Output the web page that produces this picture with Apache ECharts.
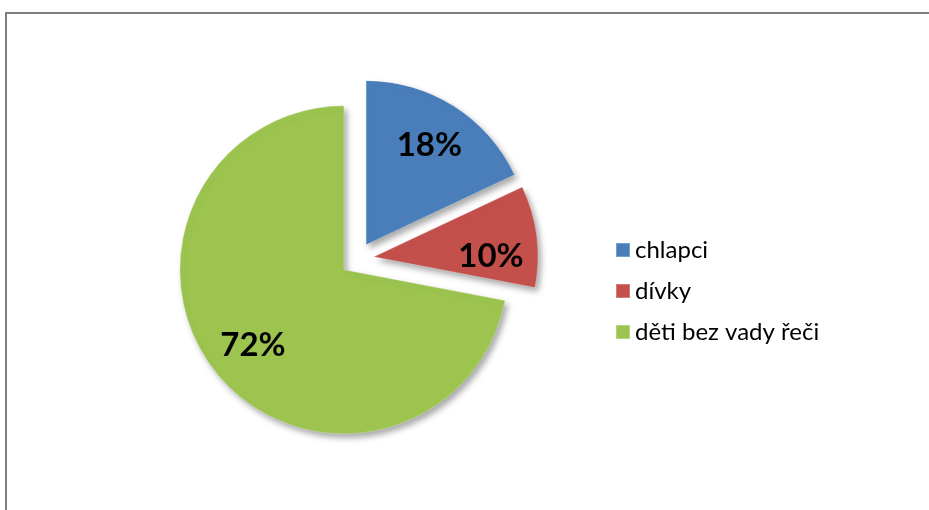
<!DOCTYPE html>
<html>
<head>
<meta charset="utf-8">
<script src="https://cdn.jsdelivr.net/npm/echarts@6/dist/echarts.min.js"></script>
<style>
html,body{margin:0;padding:0;background:#fff;}
#frame{position:absolute;left:5px;top:12px;width:924px;height:498px;border-top:2px solid #7f7f7f;border-left:2px solid #7f7f7f;box-sizing:border-box;}
#chart{position:absolute;left:0;top:0;width:929px;height:510px;}
</style>
</head>
<body>
<div id="frame"></div>
<div id="chart"></div>
<script>
const categories = ['chlapci', 'dívky', 'děti bez vady řeči'];
const values = [18, 10, 72];
const labels = ['18%', '10%', '72%'];
const colors = ['#4a7ebb', '#c4504c', '#9cc44f'];

const chart = echarts.init(document.getElementById('chart'));
const center = [357, 259];
const R = 164;
const FONT = 'Lato, "Open Sans", sans-serif';

const pieData = categories.map((c, i) => ({
  name: c, value: values[i], selected: true,
  itemStyle: {color: colors[i]}
}));
const labelData = categories.map((c, i) => ({
  name: c, value: values[i], selected: true,
  label: {formatter: labels[i]}
}));

chart.setOption({
  animation: false,
  legend: {
    orient: 'vertical',
    left: 610,
    top: 233,
    itemWidth: 14,
    itemHeight: 14,
    itemGap: 17,
    icon: 'rect',
    data: categories,
    textStyle: {fontFamily: FONT, fontSize: 24, color: '#000'}
  },
  series: [
    {
      type: 'pie',
      center: center,
      radius: [0, R],
      startAngle: 90,
      clockwise: true,
      selectedMode: 'multiple',
      selectedOffset: 17,
      label: {show: false},
      labelLine: {show: false},
      emphasis: {disabled: true},
      itemStyle: {
        shadowBlur: 6, shadowOffsetX: 3, shadowOffsetY: 4, shadowColor: 'rgba(0,0,0,0.35)',
        borderColor: 'rgba(255,255,255,0.25)', borderWidth: 1
      },
      data: pieData
    },
    {
      type: 'pie',
      center: center,
      radius: [66, R],
      startAngle: 90,
      clockwise: true,
      selectedMode: 'multiple',
      selectedOffset: 17,
      silent: true,
      legendHoverLink: false,
      itemStyle: {color: 'rgba(0,0,0,0)'},
      emphasis: {disabled: true},
      labelLine: {show: false},
      label: {
        show: true, position: 'inside',
        fontFamily: FONT,
        fontWeight: 'bold', fontSize: 33, color: '#000'
      },
      labelLayout: function (p) {
        return p.dataIndex === 1 ? {dy: 14} : {};
      },
      data: labelData
    }
  ]
});
</script>
</body>
</html>
